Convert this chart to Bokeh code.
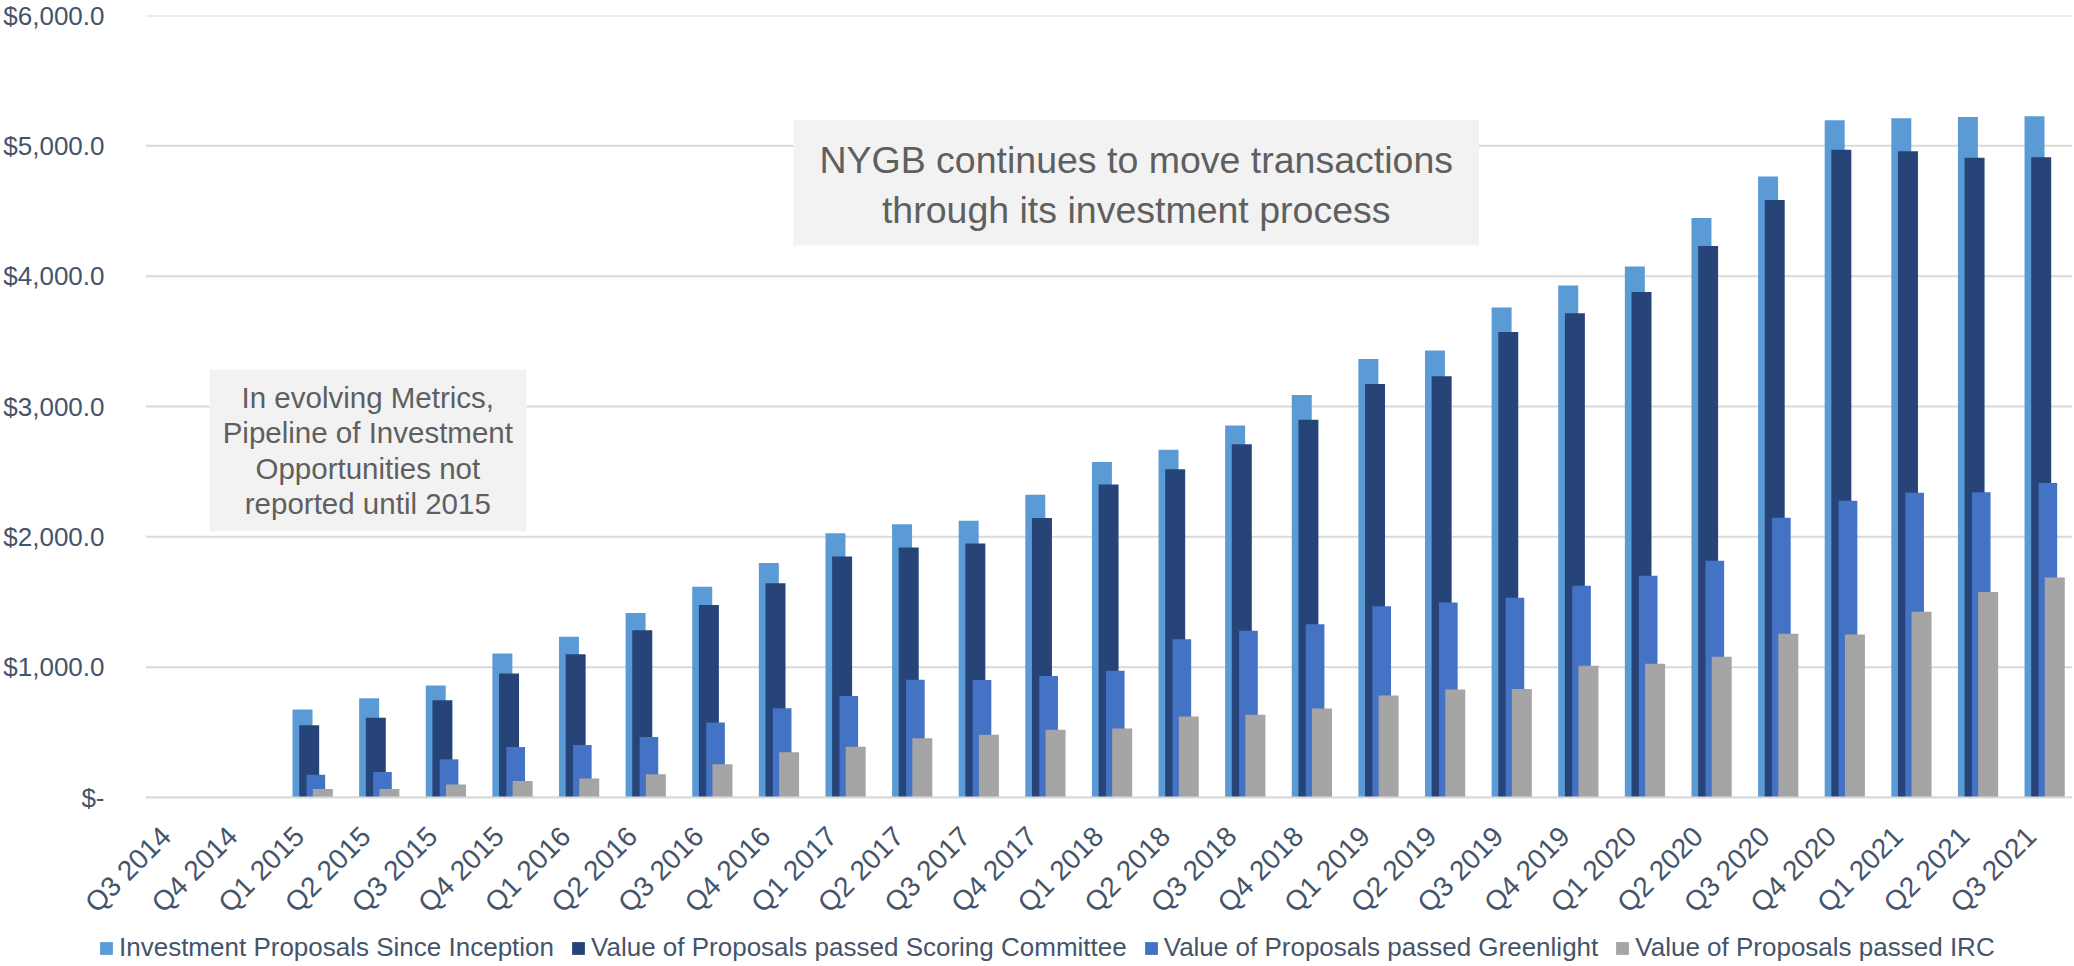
import math
import numpy as np
from bokeh.plotting import figure
from bokeh.layouts import column
from bokeh.models import (Range1d, FixedTicker, ColumnDataSource, Legend, LegendItem,
                          BoxAnnotation, Label)
from bokeh.transform import dodge
from bokeh.embed import file_html
from bokeh.resources import INLINE

# ---------------- data ----------------
categories = ["Q3 2014", "Q4 2014",
              "Q1 2015", "Q2 2015", "Q3 2015", "Q4 2015",
              "Q1 2016", "Q2 2016", "Q3 2016", "Q4 2016",
              "Q1 2017", "Q2 2017", "Q3 2017", "Q4 2017",
              "Q1 2018", "Q2 2018", "Q3 2018", "Q4 2018",
              "Q1 2019", "Q2 2019", "Q3 2019", "Q4 2019",
              "Q1 2020", "Q2 2020", "Q3 2020", "Q4 2020",
              "Q1 2021", "Q2 2021", "Q3 2021"]

investment_proposals = [None, None,
                        675, 762, 859, 1105, 1233, 1416, 1617, 1800, 2027, 2096, 2124, 2322,
                        2575, 2669, 2855, 3089, 3364, 3430, 3759, 3929, 4074, 4446, 4765, 5196,
                        5212, 5222, 5227]
scoring_committee = [None, None,
                     555, 611, 746, 952, 1100, 1283, 1477, 1643, 1849, 1918, 1948, 2144,
                     2402, 2519, 2710, 2898, 3173, 3232, 3571, 3715, 3878, 4232, 4584, 4969,
                     4959, 4908, 4913]
greenlight = [None, None,
              174, 196, 293, 387, 402, 464, 576, 685, 779, 904, 901, 932,
              973, 1215, 1279, 1329, 1467, 1497, 1533, 1625, 1701, 1816, 2147, 2277,
              2338, 2343, 2414]
irc = [None, None,
       66, 66, 99, 127, 145, 178, 255, 347, 390, 454, 481, 519,
       530, 622, 634, 683, 782, 828, 833, 1011, 1027, 1080, 1256, 1251,
       1426, 1577, 1688]

series_names = ["Investment Proposals Since Inception",
                "Value of Proposals passed Scoring Committee",
                "Value of Proposals passed Greenlight",
                "Value of Proposals passed IRC"]

y_ticks = [0, 1000, 2000, 3000, 4000, 5000, 6000]
y_tick_labels = ["$-", "$1,000.0", "$2,000.0", "$3,000.0", "$4,000.0", "$5,000.0", "$6,000.0"]

title_lines = ["NYGB continues to move transactions", "through its investment process"]
note_lines = ["In evolving Metrics,", "Pipeline of Investment",
              "Opportunities not", "reported until 2015"]

# ---------------- styling ----------------
colors = ["#5B9BD5", "#264478", "#4472C4", "#A5A5A5"]
offsets = [-0.15, -0.05, 0.05, 0.154]
widths = [0.3, 0.3, 0.28, 0.3]
label_shift = -0.2          # rotated labels end at the category centre
axis_color = "#44546A"
grid_color = "#D9D9D9"
note_color = "#5F5F5F"
box_fill = "#F2F2F2"
FONT = "Liberation Sans"
W = 2072
X_START = -138 / 66.87      # room for the value labels, inside the frame
X_END = 28.92


def nanify(vals):
    return [np.nan if v is None else float(v) for v in vals]


x_centers = [i + 0.5 for i in range(len(categories))]
source = ColumnDataSource(dict(
    x=x_centers,
    s0=nanify(investment_proposals),
    s1=nanify(scoring_committee),
    s2=nanify(greenlight),
    s3=nanify(irc),
))

p = figure(width=W, height=932,
           x_range=Range1d(X_START, X_END), y_range=Range1d(0, 6000),
           output_backend="svg", toolbar_location=None,
           min_border_left=0, min_border_right=0,
           min_border_top=15, min_border_bottom=132)
p.outline_line_color = None
p.background_fill_color = "white"
p.border_fill_color = "white"

# horizontal grid lines over the category area only
p.segment(x0=[0] * len(y_ticks), x1=[X_END] * len(y_ticks), y0=y_ticks, y1=y_ticks,
          line_color=grid_color, line_width=2)

for k in range(4):
    p.vbar(x=dodge("x", offsets[k]), top="s%d" % k, width=widths[k], bottom=0,
           source=source, fill_color=colors[k], line_color=None)

# axes
label_pos = [x + label_shift for x in x_centers]
p.xaxis.ticker = FixedTicker(ticks=label_pos)
p.xaxis.major_label_overrides = {x: c for x, c in zip(label_pos, categories)}
p.xaxis.major_label_orientation = math.pi / 4
p.xaxis.major_label_text_font = FONT
p.xaxis.major_label_text_font_size = "28px"
p.xaxis.major_label_text_color = axis_color
p.xaxis.major_label_standoff = 28
p.xaxis.axis_line_color = grid_color
p.xaxis.axis_line_width = 2
p.xaxis.bounds = (0, X_END)
p.xaxis.major_tick_line_color = None
p.xaxis.minor_tick_line_color = None

p.yaxis.ticker = FixedTicker(ticks=y_ticks)
p.yaxis.major_label_overrides = {t: l for t, l in zip(y_ticks, y_tick_labels)}
p.yaxis.major_label_text_font = FONT
p.yaxis.major_label_text_font_size = "26px"
p.yaxis.major_label_text_color = axis_color
p.yaxis.major_label_standoff = -102
p.yaxis.axis_line_color = None
p.yaxis.major_tick_line_color = None
p.yaxis.minor_tick_line_color = None

p.xgrid.visible = False
p.ygrid.visible = False

# annotation boxes
p.add_layout(BoxAnnotation(left=9.72, right=20.01, bottom=4235, top=5200,
                           fill_color=box_fill, fill_alpha=1.0, line_color=None))
p.add_layout(BoxAnnotation(left=0.957, right=5.71, bottom=2043, top=3284,
                           fill_color=box_fill, fill_alpha=1.0, line_color=None))

for txt, yv in zip(title_lines, [4893, 4510]):
    p.add_layout(Label(x=14.865, y=yv, text=txt, text_align="center", text_baseline="middle",
                       text_font=FONT, text_font_size="37.5px", text_color=note_color))
for txt, yv in zip(note_lines, [3072, 2804, 2524, 2255]):
    p.add_layout(Label(x=3.33, y=yv, text=txt, text_align="center", text_baseline="middle",
                       text_font=FONT, text_font_size="29.5px", text_color=note_color))

# ---------------- legend strip ----------------
pl = figure(width=W, height=32, x_range=Range1d(0, 1), y_range=Range1d(0, 1),
            output_backend="svg", toolbar_location=None,
            x_axis_type=None, y_axis_type=None,
            min_border=0, min_border_left=0, min_border_right=0,
            min_border_top=0, min_border_bottom=0)
pl.outline_line_color = None
pl.xgrid.visible = False
pl.ygrid.grid_line_color = None
# legend swatches only: the proxy bars lie entirely outside the visible ranges
proxy = ColumnDataSource(dict(x=[-5.0], top=[-2.0], bottom=[-3.0]))
legend_renderers = []
for k in range(4):
    legend_renderers.append(pl.vbar(x="x", top="top", bottom="bottom", width=0.3, source=proxy,
                                    fill_color=colors[k], line_color=None))

legend = Legend(items=[LegendItem(label=n, renderers=[r]) for n, r in zip(series_names, legend_renderers)],
                orientation="horizontal", location=(90, 1),
                label_text_font=FONT, label_text_font_size="26px", label_text_color=axis_color,
                glyph_width=16, glyph_height=16, label_standoff=5, spacing=16,
                padding=0, margin=0, border_line_color=None, background_fill_alpha=0)
pl.add_layout(legend)

layout = column(p, pl, spacing=0)
open("out.html", "w").write(file_html(layout, INLINE))
